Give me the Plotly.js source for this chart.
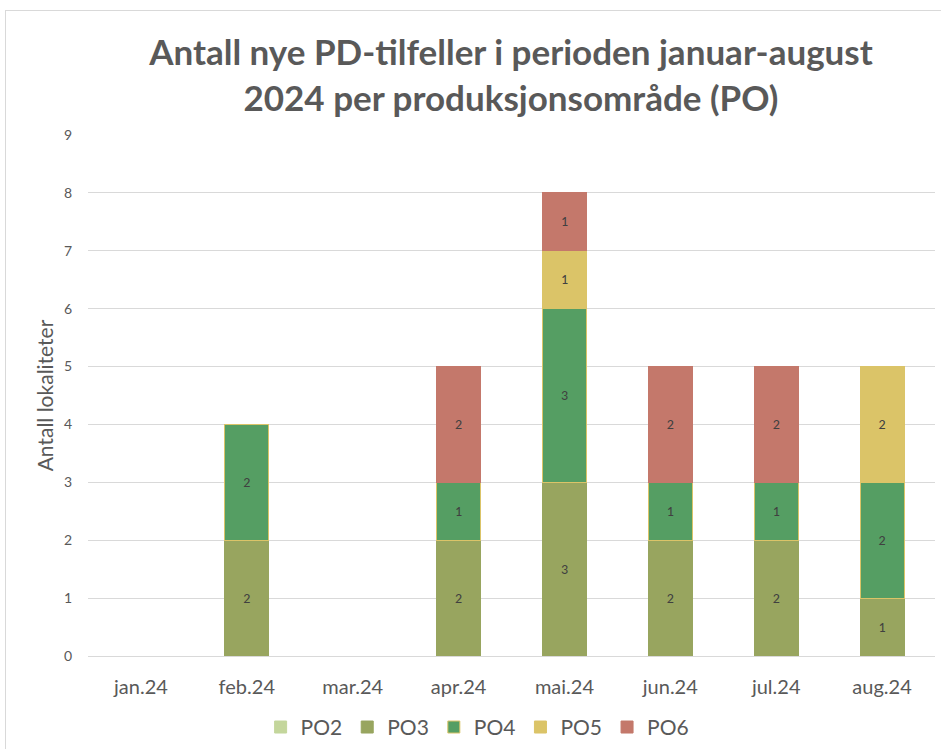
<!DOCTYPE html>
<html><head><meta charset="utf-8">
<script src="https://cdn.plot.ly/plotly-3.0.1.min.js"></script>
<style>
body{margin:0;padding:0;background:#fff;}
#wrap{position:relative;width:941px;height:749px;overflow:hidden;}
#chart{position:absolute;left:0;top:0;width:941px;height:749px;}
#frame{position:absolute;left:5px;top:10px;width:1000px;height:1000px;border-left:1px solid #d9d9d9;border-top:1px solid #d9d9d9;pointer-events:none;}
</style></head>
<body>
<div id="wrap"><div id="chart"></div><div id="frame"></div></div>
<script>
const months = ['jan.24','feb.24','mar.24','apr.24','mai.24','jun.24','jul.24','aug.24'];
const seriesNames = ['PO2','PO3','PO4','PO5','PO6'];
const po2 = [0,0,0,0,0,0,0,0];
const po3 = [0,2,0,2,3,2,2,1];
const po4 = [0,2,0,1,3,1,1,2];
const po5 = [0,0,0,0,1,0,0,2];
const po6 = [0,0,0,2,1,2,2,0];
const colors = ['#C4D69C','#98A55F','#559E63','#DBC468','#C4786B'];
const lineColors = ['#C4D69C','#98A55F','#DBC468','#DBC468','#C4786B'];
const values = [po2,po3,po4,po5,po6];

const traces = values.map((v,i)=>({
  type:'bar',
  name:seriesNames[i],
  x:months,
  y:v.map(d=>d===0?null:d),
  text:v.map(d=>d?String(d):''),
  textposition:'inside',
  insidetextanchor:'middle',
  constraintext:'none',
  textfont:{family:'Calibri, Carlito, Lato, sans-serif',size:14,color:'#404040'},
  marker:{color:colors[i],line:{color:lineColors[i],width:1}},
  hoverinfo:'skip'
}));

const layout = {
  width:941,height:749,
  barmode:'stack',
  bargap:0.585,
  paper_bgcolor:'rgba(0,0,0,0)',
  plot_bgcolor:'rgba(0,0,0,0)',
  margin:{l:88,r:6,t:135,b:93,autoexpand:false},
  title:{
    text:'Antall nye PD-tilfeller i perioden januar-august<br>2024 per produksjonsområde (PO)',
    font:{family:'Lato, sans-serif',size:35,color:'#595959',weight:'bold'},
    x:0.543,xanchor:'center',y:0.913,yanchor:'middle'
  },
  xaxis:{
    tickfont:{family:'Lato, sans-serif',size:20,color:'#595959'},
    showgrid:false,showline:false,ticks:'outside',ticklen:13,tickcolor:'rgba(0,0,0,0)',
    fixedrange:true
  },
  yaxis:{
    range:[0,9],dtick:1,
    tickfont:{family:'Lato, sans-serif',size:14,color:'#595959'},
    gridcolor:'#d9d9d9',gridwidth:1,
    zeroline:true,zerolinecolor:'#d9d9d9',zerolinewidth:1,
    showline:false,ticks:'outside',ticklen:12,tickcolor:'rgba(0,0,0,0)',
    title:{text:'Antall lokaliteter',font:{family:'Lato, sans-serif',size:21,color:'#595959'},standoff:4},
    fixedrange:true
  },
  legend:{
    orientation:'h',x:0.46,xanchor:'center',y:-0.137,yanchor:'middle',
    font:{family:'Lato, sans-serif',size:21,color:'#595959'},
    traceorder:'normal',itemwidth:30
  },
  showlegend:true
};
Plotly.newPlot('chart',traces,layout,{displayModeBar:false,staticPlot:true});
</script>
</body></html>
